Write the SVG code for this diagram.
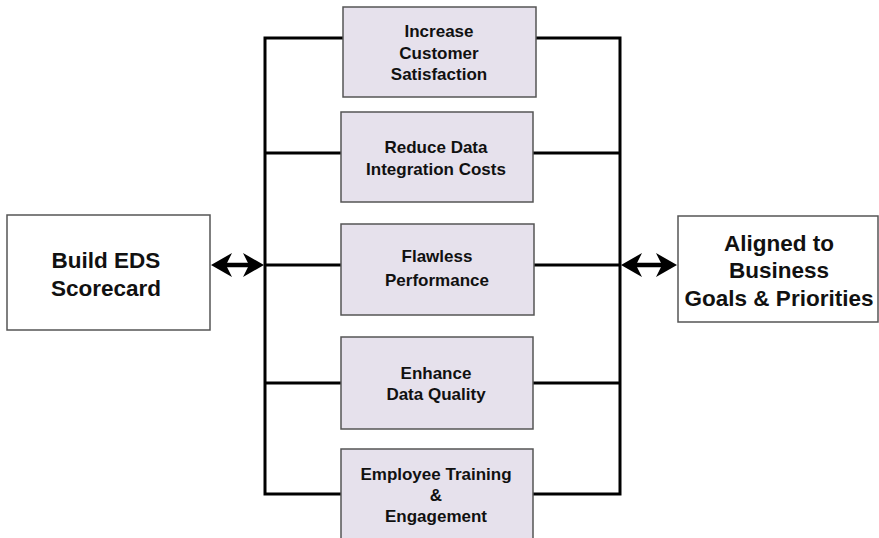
<svg xmlns="http://www.w3.org/2000/svg" width="879" height="538" viewBox="0 0 879 538">
<style>
.box{fill:#e6e1ec;stroke:#555;stroke-width:1.5}
.wbox{fill:#fff;stroke:#555;stroke-width:1.5}
.t{font-family:"Liberation Sans",Arial,sans-serif;font-weight:bold;font-size:17px;fill:#111;text-anchor:middle}
.tl{font-family:"Liberation Sans",Arial,sans-serif;font-weight:bold;font-size:22.5px;fill:#111;text-anchor:middle}
.ln{stroke:#000;stroke-width:3;fill:none}
.sh{stroke:#000;stroke-width:4.5;fill:none}
</style>
<rect width="879" height="538" fill="#fff"/>
<g id="connectors">
<path class="ln" d="M343 38H265V494H343M265 153H341M265 265H341M265 383H341"/>
<path class="ln" d="M536 38H620V494H533M533 153H620M533 265H620M533 383H620"/>
<path class="sh" d="M222 265H254"/>
<polygon points="211,265 232,253 226,265 232,277" fill="#000"/>
<polygon points="264,265 243,253 249,265 243,277" fill="#000"/>
<path class="sh" d="M632 265H666"/>
<polygon points="621,265 642,253 636,265 642,277" fill="#000"/>
<polygon points="677,265 656,253 662,265 656,277" fill="#000"/>
</g>
<g id="build">
<rect class="wbox" x="7" y="215" width="203" height="115"/>
<text class="tl" x="106" y="268">Build EDS</text>
<text class="tl" x="106" y="296">Scorecard</text>
</g>
<g id="aligned">
<rect class="wbox" x="678" y="216" width="200" height="106"/>
<text class="tl" x="779" y="251">Aligned to</text>
<text class="tl" x="779" y="278">Business</text>
<text class="tl" x="779" y="306">Goals &amp; Priorities</text>
</g>
<g id="n1">
<rect class="box" x="343" y="7" width="193" height="90"/>
<text class="t" x="439" y="37">Increase</text>
<text class="t" x="439" y="59">Customer</text>
<text class="t" x="439" y="80">Satisfaction</text>
</g>
<g id="n2">
<rect class="box" x="341" y="112" width="192" height="90"/>
<text class="t" x="436" y="153">Reduce Data</text>
<text class="t" x="436" y="175">Integration Costs</text>
</g>
<g id="n3">
<rect class="box" x="341" y="224" width="193" height="91"/>
<text class="t" x="437" y="262">Flawless</text>
<text class="t" x="437" y="286">Performance</text>
</g>
<g id="n4">
<rect class="box" x="341" y="337" width="192" height="92"/>
<text class="t" x="436" y="379">Enhance</text>
<text class="t" x="436" y="400">Data Quality</text>
</g>
<g id="n5">
<rect class="box" x="341" y="449" width="192" height="95"/>
<text class="t" x="436" y="480">Employee Training</text>
<text class="t" x="436" y="501">&amp;</text>
<text class="t" x="436" y="522">Engagement</text>
</g>
</svg>
